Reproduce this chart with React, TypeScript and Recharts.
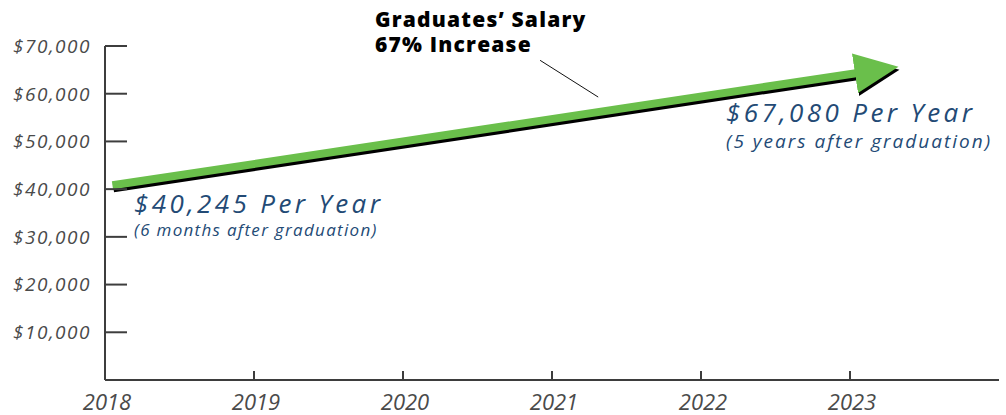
import { Line, LineChart, ReferenceLine, XAxis, YAxis } from "recharts";

// axis ticks
const years = [2018, 2019, 2020, 2021, 2022, 2023];
const salaryTicks = [10000, 20000, 30000, 40000, 50000, 60000, 70000];

// the growth arrow (start: 6 months after graduation, end: 5 years after)
const arrowYears = [2018.05, 2023.04];
const arrowSalaries = [40800, 64300];

// leader line from the title to the arrow
const leaderYears = [2020.92, 2021.31];
const leaderSalaries = [67000, 59300];

const arrowData = arrowYears.map((year, i) => ({ year, salary: arrowSalaries[i] }));

const AXIS = "#3d3d3d";
const LABEL = "#4a4a4a";
const BLUE = "#234a75";
const GREEN = "#6abf4b";
const FONT = "'Open Sans', sans-serif";

const fmtMoney = (v: number) => `$${v.toLocaleString("en-US")}`;

function YTick(props: any) {
  const { x, y, payload } = props;
  return (
    <g>
      <line x1={x} x2={x + 22} y1={y} y2={y} stroke={AXIS} strokeWidth={2} />
      <text
        x={x - 14}
        y={y}
        dy="0.36em"
        textAnchor="end"
        fill={LABEL}
        fontSize={19}
        fontStyle="italic"
        fontFamily={FONT}
        letterSpacing={1.5}
      >
        {fmtMoney(payload.value)}
      </text>
    </g>
  );
}

function XTick(props: any) {
  const { x, y, payload } = props;
  return (
    <g>
      <line x1={x} x2={x} y1={y} y2={y - 9} stroke={AXIS} strokeWidth={2} />
      <text
        x={x + 2}
        y={y + 30}
        textAnchor="middle"
        fill={LABEL}
        fontSize={22}
        fontStyle="italic"
        fontFamily={FONT}
      >
        {payload.value}
      </text>
    </g>
  );
}

export default function App() {
  return (
    <div style={{ position: "relative", width: 1006, height: 415, background: "#fff" }}>
      <style>{`body{margin:0} .arrow-line{filter:drop-shadow(1px 3px 0 #000)}`}</style>
      <svg width={0} height={0} style={{ position: "absolute" }}>
        <defs>
          <marker
            id="arrowHead"
            markerUnits="userSpaceOnUse"
            viewBox="0 -22 46 44"
            refX={1}
            refY={0}
            markerWidth={46}
            markerHeight={44}
            orient="auto"
          >
            <path d="M0,-20 L44,0 L0,20 Z" fill={GREEN} />
          </marker>
        </defs>
      </svg>
      <LineChart width={1006} height={415} data={arrowData} margin={{ top: 46, right: 7, bottom: 0, left: 0 }}>
        <XAxis
          dataKey="year"
          type="number"
          domain={[2018, 2024]}
          ticks={years}
          interval={0}
          height={35}
          axisLine={{ stroke: AXIS, strokeWidth: 2 }}
          tickLine={false}
          tickSize={0}
          tickMargin={0}
          tick={XTick}
        />
        <YAxis
          type="number"
          domain={[0, 70000]}
          ticks={salaryTicks}
          interval={0}
          width={105}
          axisLine={{ stroke: AXIS, strokeWidth: 2 }}
          tickLine={false}
          tickSize={0}
          tickMargin={0}
          tick={YTick}
        />
        <ReferenceLine
          segment={[
            { x: leaderYears[0], y: leaderSalaries[0] },
            { x: leaderYears[1], y: leaderSalaries[1] },
          ]}
          stroke="#111"
          strokeWidth={1}
          ifOverflow="visible"
        />
        <Line
          className="arrow-line"
          type="linear"
          dataKey="salary"
          stroke={GREEN}
          strokeWidth={8}
          strokeLinecap="butt"
          markerEnd="url(#arrowHead)"
          dot={false}
          activeDot={false}
          isAnimationActive={false}
        />
      </LineChart>
      <svg
        width={1006}
        height={415}
        style={{ position: "absolute", left: 0, top: 0, pointerEvents: "none" }}
        fontFamily={FONT}
      >
        <text x={375} y={27} fontSize={21} fontWeight={800} fill="#000" letterSpacing={1.2}>
          Graduates’ Salary
        </text>
        <text x={375} y={52} fontSize={21} fontWeight={800} fill="#000" letterSpacing={1.2}>
          67% Increase
        </text>
        <text x={134} y={213} fontSize={26} fontStyle="italic" fill={BLUE} letterSpacing={3.4}>
          $40,245 Per Year
        </text>
        <text x={134} y={236} fontSize={17} fontStyle="italic" fill={BLUE} letterSpacing={1.3}>
          (6 months after graduation)
        </text>
        <text x={726} y={122} fontSize={26} fontStyle="italic" fill={BLUE} letterSpacing={3.4}>
          $67,080 Per Year
        </text>
        <text x={726} y={148} fontSize={19} fontStyle="italic" fill={BLUE} letterSpacing={2}>
          (5 years after graduation)
        </text>
      </svg>
    </div>
  );
}
